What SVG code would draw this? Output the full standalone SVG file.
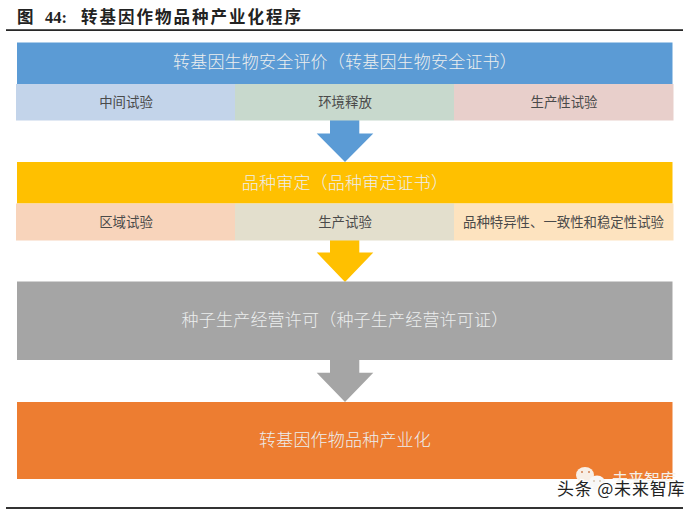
<svg xmlns="http://www.w3.org/2000/svg" width="700" height="511" viewBox="0 0 700 511">
<style>
text{font-family:"Noto Sans CJK SC","Liberation Sans",sans-serif;text-anchor:middle}
.h{fill:#eceeee;font-size:17px;letter-spacing:.2px;font-weight:300}
.s{fill:#4a4a4a;font-size:13.4px}
.t{font-family:"Liberation Serif","Noto Sans CJK SC",serif;font-size:16.5px;font-weight:700;text-anchor:start;fill:#222}
</style>
<rect width="700" height="511" fill="#fff"/>
<text class="t" y="23"><tspan x="17">图</tspan><tspan x="45">44:</tspan><tspan x="81" letter-spacing="2">转基因作物品种产业化程序</tspan></text>
<rect x="6" y="29.3" width="677" height="1.6" fill="#111"/>
<g id="connectors">
<polygon points="330,120 359.3,120 359.3,133.5 373.3,133.5 345,162 316.7,133.5 330,133.5" fill="#5b9bd5"/>
<polygon points="330,240 359.3,240 359.3,252.5 373.3,252.5 345,282 316.7,252.5 330,252.5" fill="#ffc000"/>
<polygon points="330,360 359.3,360 359.3,372.7 373.3,372.7 345,402 316.7,372.7 330,372.7" fill="#a5a5a5"/>
</g>
<g id="node-safety"><rect x="17" y="42.5" width="655.5" height="41.5" fill="#5b9bd5"/><text class="h" x="345" y="68">转基因生物安全评价（转基因生物安全证书）</text></g>
<g id="node-zhongjian"><rect x="16" y="84" width="219" height="36.5" fill="#c3d4ea"/><text class="s" x="126" y="107">中间试验</text></g>
<g id="node-huanjing"><rect x="235" y="84" width="219" height="36.5" fill="#c8d9cd"/><text class="s" x="345" y="107">环境释放</text></g>
<g id="node-shengchan1"><rect x="454" y="84" width="219.5" height="36.5" fill="#e8cfcb"/><text class="s" x="564" y="107">生产性试验</text></g>
<g id="node-pinzhong"><rect x="17" y="162" width="655.5" height="41.5" fill="#ffc000"/><text class="h" x="345" y="189">品种审定（品种审定证书）</text></g>
<g id="node-quyu"><rect x="16" y="203.5" width="219" height="37" fill="#f8d4bb"/><text class="s" x="126" y="227">区域试验</text></g>
<g id="node-shengchan2"><rect x="235" y="203.5" width="219" height="37" fill="#e3dfcd"/><text class="s" x="345" y="227">生产试验</text></g>
<g id="node-dus"><rect x="454" y="203.5" width="219.5" height="37" fill="#fde3bf"/><text class="s" x="563.5" y="227">品种特异性、一致性和稳定性试验</text></g>
<g id="node-license"><rect x="17" y="281.5" width="655.5" height="78.5" fill="#a5a5a5"/><text class="h" x="345" y="326">种子生产经营许可（种子生产经营许可证）</text></g>
<g id="node-final"><rect x="17" y="402" width="655.5" height="77" fill="#ed7d31"/><text class="h" x="345" y="446">转基因作物品种产业化</text></g>
<rect x="6" y="507" width="677" height="2" fill="#333"/>
<g id="watermark">
<text x="644" y="485" style="font-size:16px" fill="#f4f0ea">未来智库</text>
<ellipse cx="585" cy="475" rx="9" ry="8" fill="#f8efe6"/>
<ellipse cx="597" cy="483" rx="8.5" ry="7.5" fill="#f8f8f8"/>
<circle cx="582" cy="472" r="1" fill="#d08050"/><circle cx="589" cy="472" r="1" fill="#d08050"/>
<circle cx="594" cy="481" r=".8" fill="#c0a080"/><circle cx="600" cy="481" r=".8" fill="#c0a080"/>
<text x="557" y="495" style="font-size:17px;letter-spacing:.8px;text-anchor:start;stroke:#fff;stroke-width:2.5px;paint-order:stroke" fill="#222">头条 @未来智库</text>
</g>
</svg>
